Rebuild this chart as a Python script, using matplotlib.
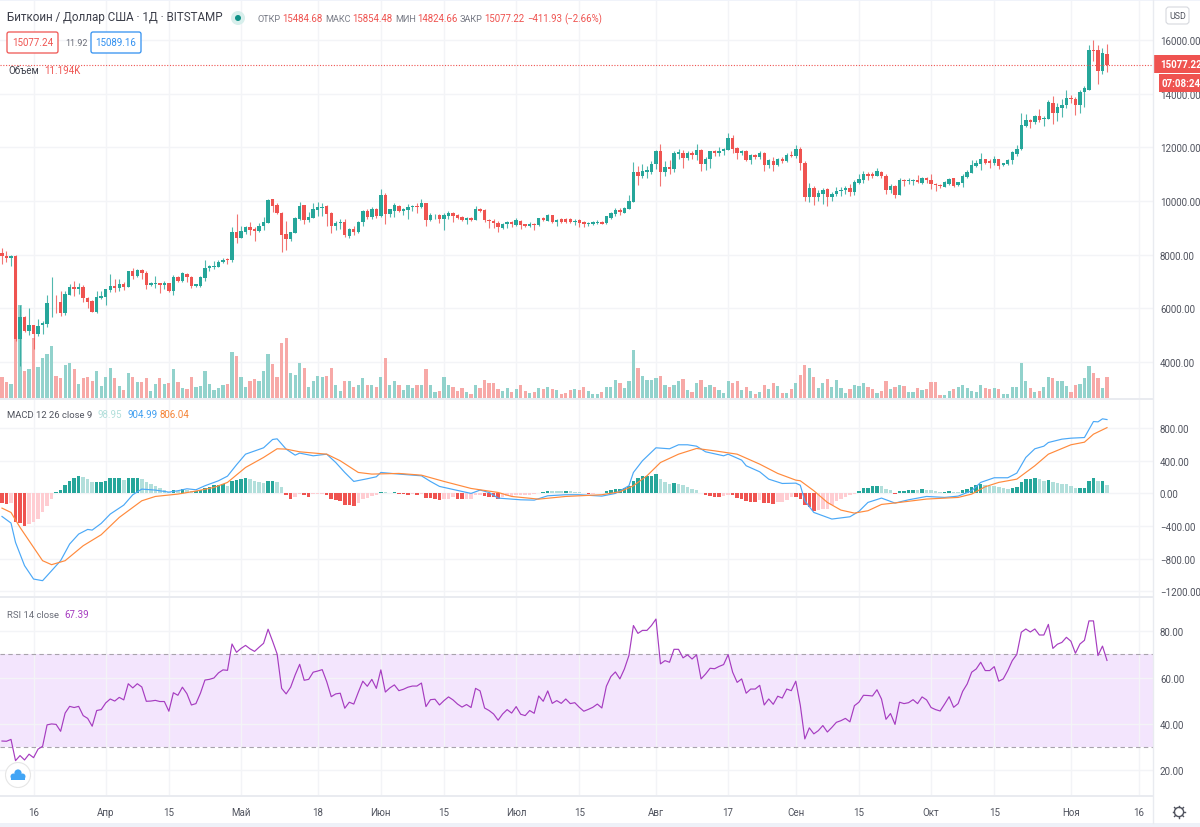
"""
Bitcoin / USD daily chart with volume, MACD and RSI panes, values read off a
TradingView screenshot.
"""

import matplotlib
matplotlib.use('Agg')
import matplotlib.pyplot as plt
from matplotlib.patches import Circle, FancyBboxPatch, Rectangle

plt.rcParams['font.family'] = ['Roboto', 'DejaVu Sans']

# one candle per day, first one is 9 March
opens = [8060, 7940, 7890, 7940, 4850, 5660, 5160, 5370, 5040, 5370,
         5430, 6190, 6210, 6220, 5820, 6490, 6790, 6720, 6790, 6400,
         6290, 5880, 6400, 6430, 6670, 6840, 6740, 6920, 6790, 7380,
         7200, 7440, 7300, 6870, 6890, 6950, 6880, 6930, 6630, 7170,
         7020, 7290, 7150, 6820, 6850, 7140, 7510, 7530, 7550, 7730,
         7850, 7790, 8850, 8630, 8830, 9020, 8950, 8880, 9060, 9180,
         10070, 9860, 9560, 8770, 8570, 8820, 9310, 9840, 9290, 9350,
         9665, 9740, 9800, 9550, 9060, 9170, 9215, 8690, 8940, 8840,
         9200, 9615, 9415, 9715, 9430, 10210, 9515, 9640, 9825, 9640,
         9665, 9780, 9800, 9765, 9910, 9280, 9465, 9490, 9340, 9440,
         9550, 9490, 9415, 9290, 9350, 9290, 9715, 9650, 9290, 9265,
         9190, 9005, 9150, 9215, 9115, 9255, 9130, 9065, 9140, 9090,
         9350, 9270, 9465, 9230, 9330, 9330, 9330, 9215, 9280, 9215,
         9140, 9155, 9180, 9225, 9165, 9375, 9500, 9650, 9560, 9700,
         9950, 11070, 10920, 11090, 11090, 11365, 11850, 11070, 11265, 11205,
         11760, 11790, 11590, 11800, 11730, 11900, 11365, 11565, 11850, 11800,
         11865, 11915, 12350, 11990, 11790, 11865, 11515, 11700, 11650, 11790,
         11350, 11490, 11350, 11550, 11500, 11725, 11665, 11940, 11415, 10160,
         10480, 10160, 10270, 10460, 10150, 10245, 10370, 10420, 10480, 10345,
         10670, 10770, 10990, 10990, 10940, 11090, 10940, 10420, 10570, 10220,
         10780, 10730, 10740, 10800, 10660, 10850, 10790, 10630, 10590, 10530,
         10650, 10840, 10590, 10660, 10910, 11060, 11310, 11370, 11550, 11480,
         11410, 11550, 11330, 11380, 11520, 11760, 11920, 12790, 13000, 12940,
         13160, 13070, 13060, 13650, 13290, 13450, 13580, 13840, 13810, 13580,
         14080, 14150, 15620, 15620, 14860, 15484.68]
closes = [7960, 7890, 7940, 4850, 5660, 5160, 5370, 5030, 5340, 5450,
          6200, 6210, 6180, 5820, 6520, 6790, 6715, 6800, 6390, 6240,
          5880, 6440, 6470, 6720, 6840, 6740, 6920, 6790, 7380, 7200,
          7440, 7300, 6880, 6930, 6950, 6880, 6930, 6630, 7170, 7020,
          7320, 7150, 6840, 6890, 7180, 7500, 7570, 7590, 7730, 7810,
          7790, 8850, 8635, 8870, 9020, 8930, 8880, 9070, 9220, 10020,
          9810, 9560, 8750, 8570, 8830, 9360, 9830, 9290, 9415, 9690,
          9760, 9790, 9500, 9070, 9190, 9215, 8730, 8940, 8840, 9215,
          9630, 9400, 9715, 9430, 10210, 9515, 9690, 9840, 9625, 9690,
          9760, 9800, 9765, 9910, 9280, 9465, 9490, 9340, 9465, 9565,
          9440, 9350, 9290, 9350, 9290, 9715, 9640, 9290, 9240, 9165,
          9015, 9130, 9215, 9130, 9280, 9105, 9055, 9130, 9090, 9350,
          9280, 9465, 9230, 9280, 9215, 9230, 9215, 9265, 9190, 9140,
          9175, 9205, 9230, 9160, 9425, 9560, 9660, 9590, 9725, 9985,
          11070, 10940, 11130, 11150, 11365, 11850, 11070, 11265, 11205, 11800,
          11810, 11590, 11800, 11730, 11900, 11365, 11575, 11850, 11800, 11875,
          11940, 12350, 11940, 11790, 11865, 11515, 11700, 11650, 11800, 11350,
          11515, 11350, 11550, 11500, 11725, 11675, 11940, 11415, 10160, 10480,
          10160, 10295, 10420, 10150, 10270, 10370, 10420, 10480, 10345, 10705,
          10805, 10990, 10930, 10930, 11130, 10930, 10420, 10570, 10220, 10780,
          10740, 10770, 10800, 10700, 10860, 10790, 10620, 10580, 10560, 10710,
          10830, 10560, 10690, 10940, 11090, 11330, 11430, 11550, 11420, 11420,
          11550, 11300, 11410, 11530, 11810, 11930, 12830, 13000, 12940, 13160,
          13030, 13100, 13690, 13290, 13490, 13580, 13830, 13800, 13580, 14080,
          14200, 15620, 15600, 14860, 15510, 15077.22]
highs = [8240, 8150, 8000, 8000, 6140, 5700, 6000, 5370, 5600, 5530,
         6490, 7150, 6490, 6650, 6650, 6900, 7015, 6930, 6866, 6440,
         6320, 6650, 6650, 6680, 7280, 7090, 7090, 6990, 7400, 7500,
         7460, 7460, 7380, 6990, 7215, 6950, 7030, 6950, 7240, 7190,
         7340, 7315, 7190, 6900, 7215, 7800, 7615, 7775, 7815, 7860,
         7860, 9020, 9520, 9050, 9085, 9210, 9020, 9170, 9400, 10080,
         10090, 9930, 9580, 9250, 8860, 9400, 9980, 9840, 9590, 9910,
         9960, 9940, 9840, 9590, 9250, 9340, 9315, 9005, 9070, 9250,
         9665, 9690, 9790, 9750, 10435, 10285, 9715, 9940, 9865, 9750,
         9875, 9865, 9940, 10060, 9940, 9540, 9515, 9525, 9540, 9625,
         9590, 9515, 9440, 9415, 9390, 9815, 9750, 9690, 9340, 9315,
         9255, 9190, 9265, 9255, 9350, 9290, 9155, 9215, 9190, 9380,
         9400, 9500, 9490, 9330, 9350, 9365, 9350, 9315, 9340, 9255,
         9230, 9255, 9290, 9265, 9450, 9600, 9725, 9725, 9760, 10220,
         11440, 11290, 11365, 11315, 11480, 11910, 12125, 11500, 11540, 11875,
         11940, 11910, 11850, 11865, 12125, 11940, 11650, 11875, 11900, 12000,
         11960, 12520, 12450, 12010, 11915, 11915, 11740, 11740, 11865, 11815,
         11575, 11640, 11590, 11625, 11790, 11875, 12090, 12000, 11500, 10655,
         10570, 10410, 10470, 10495, 10320, 10505, 10505, 10570, 10630, 10780,
         11005, 11130, 11090, 11090, 11230, 11130, 11005, 10620, 10595, 10845,
         10810, 10845, 10830, 10970, 10910, 10885, 11000, 10680, 10645, 10745,
         10870, 10860, 10710, 11000, 11145, 11520, 11520, 11780, 11580, 11555,
         11660, 11580, 11430, 11555, 11870, 12080, 13280, 13255, 13055, 13205,
         13415, 13180, 13780, 13930, 13655, 13805, 14140, 13940, 13865, 14150,
         14300, 15800, 16010, 15800, 15710, 15854.48]
lows = [7650, 7720, 7590, 4780, 3850, 5100, 5000, 4470, 4970, 5030,
        5320, 5660, 5840, 5720, 5745, 6490, 6470, 6530, 6220, 6030,
        5870, 5840, 6340, 6130, 6590, 6590, 6650, 6680, 6780, 7090,
        7150, 7090, 6730, 6815, 6740, 6570, 6710, 6600, 6490, 6990,
        6990, 6970, 6750, 6800, 6800, 7030, 7390, 7460, 7525, 7690,
        7665, 7740, 8440, 8610, 8770, 8735, 8520, 8860, 8930, 9180,
        9580, 9520, 8110, 8190, 8520, 8810, 9280, 9130, 9215, 9350,
        9440, 9440, 9070, 8790, 8920, 8970, 8660, 8630, 8720, 8790,
        9070, 9340, 9340, 9380, 9415, 9130, 9400, 9415, 9590, 9465,
        9340, 9625, 9540, 9740, 9070, 9240, 9315, 9190, 8905, 9315,
        9215, 9340, 9255, 9130, 9255, 9280, 9590, 9215, 8980, 9005,
        8840, 8940, 9005, 9040, 9070, 8940, 9030, 9040, 8920, 9070,
        9240, 9240, 9190, 9070, 9190, 9190, 9190, 9090, 9040, 9030,
        9070, 9090, 9130, 9125, 9125, 9315, 9450, 9490, 9550, 9700,
        9950, 10605, 10870, 10870, 11005, 11190, 10570, 10940, 11005, 11090,
        11565, 11230, 11540, 11565, 11515, 11130, 11165, 11215, 11665, 11665,
        11725, 11915, 11790, 11565, 11715, 11490, 11380, 11565, 11565, 11130,
        11230, 11130, 11315, 11415, 11465, 11625, 11590, 11165, 10000, 9950,
        9850, 10000, 9870, 9800, 9985, 10195, 10195, 10260, 10195, 10210,
        10620, 10670, 10795, 10845, 10915, 10845, 10260, 10295, 10120, 10210,
        10560, 10645, 10595, 10660, 10620, 10680, 10430, 10370, 10495, 10520,
        10610, 10520, 10560, 10530, 10870, 11030, 11270, 11160, 11370, 11245,
        11330, 11210, 11310, 11345, 11395, 11660, 11905, 12745, 12730, 12870,
        12930, 12780, 13040, 12870, 12990, 13115, 13455, 13640, 13215, 13280,
        13515, 14150, 15215, 14365, 14740, 14824.66]

# volume in thousands
volumes = [11.5, 8.5, 7.4, 32.4, 50.4, 14.8, 15.7, 32.4, 16.9, 21.6,
           23.6, 28.0, 11.7, 10.6, 17.8, 18.9, 15.7, 7.6, 10.6, 11.3,
           9.4, 14.4, 6.5, 11.3, 16.4, 10.6, 6.5, 4.3, 13.3, 11.3,
           8.5, 8.5, 10.6, 4.0, 7.6, 10.6, 7.6, 8.1, 15.5, 8.5,
           5.4, 4.9, 11.3, 6.1, 6.5, 14.4, 7.4, 4.3, 5.4, 7.0,
           7.6, 24.7, 22.7, 11.3, 5.9, 9.2, 10.3, 9.4, 14.6, 23.6,
           18.4, 11.2, 29.7, 32.2, 13.5, 12.2, 18.9, 16.2, 6.1, 9.4,
           12.1, 11.3, 12.1, 16.2, 7.2, 3.8, 9.0, 9.0, 5.8, 6.8,
           11.0, 7.2, 6.8, 5.8, 11.3, 21.4, 6.8, 9.0, 7.2, 4.1,
           6.8, 5.2, 6.8, 6.8, 15.5, 6.8, 3.1, 3.8, 11.3, 6.8,
           5.8, 3.8, 5.2, 3.1, 2.0, 6.8, 5.2, 9.9, 8.3, 7.9,
           4.9, 3.8, 5.2, 3.1, 4.9, 6.8, 3.8, 2.7, 3.1, 5.2,
           4.9, 6.1, 4.9, 4.1, 2.0, 2.7, 4.1, 4.9, 4.1, 5.8,
           3.8, 2.0, 2.0, 3.1, 5.8, 5.8, 9.9, 7.9, 5.2, 9.0,
           25.7, 16.2, 12.1, 9.9, 9.9, 11.0, 12.1, 6.8, 5.8, 7.2,
           9.4, 10.1, 4.1, 3.1, 7.9, 9.9, 5.8, 6.8, 5.8, 4.1,
           2.7, 9.4, 8.3, 9.4, 4.1, 6.1, 3.8, 2.0, 3.1, 6.8,
           4.9, 7.9, 6.3, 2.7, 2.7, 4.9, 7.9, 12.4, 17.6, 16.2,
           11.3, 5.2, 8.3, 10.4, 5.8, 9.9, 5.2, 2.7, 4.9, 7.2,
           6.3, 8.3, 5.8, 4.9, 2.7, 3.8, 9.4, 4.9, 5.8, 6.8,
           6.3, 3.1, 3.1, 5.4, 4.3, 5.0, 8.5, 8.5, 1.8, 1.8,
           4.0, 5.0, 6.1, 7.0, 5.4, 4.0, 3.1, 7.0, 5.4, 4.7,
           5.4, 5.0, 2.0, 2.0, 6.1, 6.1, 18.9, 9.2, 5.4, 3.4,
           4.0, 6.1, 11.3, 10.6, 9.2, 9.2, 6.5, 3.1, 7.0, 7.7,
           10.6, 17.5, 13.3, 10.6, 5.4, 11.194]

macd_hist = [-122, -130, -122, -347, -367, -400, -375, -347, -318, -224,
             -150, -70, 12, 40, 98, 155, 192, 212, 196, 175,
             139, 143, 144, 155, 184, 185, 186, 163, 188, 189,
             190, 171, 143, 114, 90, 65, 41, 20, 41, 33,
             57, 41, 29, 33, 41, 65, 82, 98, 106, 114,
             90, 155, 163, 180, 188, 180, 155, 143, 131, 155,
             156, 135, 73, -24, -65, -41, -12, -16, -40, -12,
             -11, -10, -24, -65, -82, -98, -139, -147, -148, -114,
             -73, -57, -33, -20, 20, 12, 8, 12, -4, -8,
             -20, -4, -20, -4, -57, -58, -70, -82, -73, -65,
             -49, -70, -71, -65, -64, -24, -16, -33, -41, -49,
             -70, -49, -33, -29, -24, -23, -20, -19, -12, 2,
             20, 29, 28, 27, 26, 29, 24, 16, 15, 8,
             -8, -4, 8, 9, 24, 45, 49, 57, 65, 90,
             147, 188, 212, 213, 214, 237, 175, 143, 114, 122,
             114, 98, 73, 49, 41, 4, -24, -29, -41, -49,
             -33, -16, -24, -57, -73, -98, -106, -107, -82, -122,
             -123, -124, -106, -105, -82, -41, -49, -73, -147, -171,
             -212, -204, -188, -187, -139, -98, -65, -41, -24, -12,
             33, 61, 69, 86, 94, 90, 49, 41, -8, 24,
             29, 41, 45, 41, 49, 41, 37, 24, 16, 20,
             29, 20, 19, 45, 53, 73, 98, 114, 106, 90,
             89, 73, 61, 49, 61, 73, 135, 180, 182, 190,
             171, 155, 163, 139, 122, 114, 113, 94, 65, 66,
             70, 147, 188, 147, 150, 98.95]

macd_days = [0, 2, 3, 5, 7, 9, 11, 13, 15, 17, 19, 20, 22, 24, 27, 29, 31, 34, 37, 39,
             41, 43, 45, 48, 50, 52, 54, 58, 60, 61, 63, 65, 66, 69, 72, 74, 76, 78, 81, 83,
             84, 88, 93, 95, 97, 100, 104, 106, 108, 110, 115, 118, 121, 125, 128, 133, 136, 139, 140, 142,
             145, 148, 150, 152, 154, 156, 160, 161, 164, 165, 168, 170, 173, 176, 177, 178, 180, 184, 188, 190,
             192, 195, 198, 201, 205, 209, 212, 215, 217, 220, 223, 225, 227, 229, 231, 232, 235, 237, 240, 242,
             243, 244, 245]
macd_line = [-282, -363, -600, -885, -1049, -1069, -947, -824, -620, -498, -441, -449, -367, -253, -143, -16, 53, 41, 16, 33,
             57, 45, 94, 155, 212, 351, 481, 559, 661, 669, 543, 469, 494, 461, 481, 379, 257, 147, 180, 204,
             257, 237, 216, 147, 86, 49, 0, 41, 12, -57, -78, -82, -29, -16, -16, -33, 0, 94, 257, 400,
             559, 547, 596, 596, 579, 510, 461, 481, 408, 339, 265, 175, 122, 126, 100, -90, -233, -314, -286, -220,
             -110, -57, -118, -78, -37, -49, -33, 33, 135, 192, 192, 249, 441, 547, 579, 624, 665, 677, 685, 881,
             877, 914, 904.99]

signal_days = [0, 2, 4, 7, 9, 11, 14, 18, 22, 26, 31, 34, 39, 43, 47, 50, 54, 58, 61, 63,
               66, 72, 75, 79, 82, 88, 93, 98, 104, 110, 113, 119, 125, 133, 137, 140, 143, 146, 150, 154,
               158, 163, 168, 172, 176, 177, 180, 183, 186, 189, 192, 195, 199, 205, 212, 215, 218, 221, 225, 229,
               232, 237, 240, 242, 245]
signal_line = [-180, -233, -416, -661, -824, -873, -824, -641, -506, -294, -90, -37, -8, 29, 73, 135, 318, 441, 547, 543,
               510, 481, 400, 257, 237, 245, 224, 147, 61, 12, -37, -70, -37, -16, 20, 94, 216, 379, 481, 551,
               522, 481, 359, 245, 163, 155, 33, -110, -204, -241, -212, -135, -110, -69, -49, -8, 82, 135, 175, 339,
               481, 596, 628, 726, 806.04]

rsi_values = [32.5, 32.4, 33.2, 24.0, 26.2, 24.3, 26.8, 25.3, 29.0, 30.2,
              39.5, 39.9, 39.7, 36.7, 44.6, 47.5, 47.0, 47.5, 43.5, 42.3,
              38.9, 45.7, 46.1, 49.0, 50.7, 49.8, 51.4, 50.3, 57.3, 55.5,
              57.3, 55.9, 49.7, 49.8, 50.1, 49.6, 49.6, 45.4, 53.4, 52.3,
              55.8, 53.0, 48.1, 48.7, 53.2, 58.9, 59.2, 59.8, 62.0, 63.3,
              63.1, 74.5, 70.9, 72.6, 73.9, 72.4, 71.3, 73.1, 74.8, 80.9,
              75.7, 70.2, 55.3, 52.9, 55.8, 61.1, 65.7, 58.8, 59.2, 62.3,
              62.8, 63.4, 58.2, 51.7, 52.9, 53.2, 46.7, 49.3, 48.5, 53.6,
              58.4, 56.2, 59.2, 55.3, 63.3, 53.7, 55.5, 56.8, 54.3, 54.9,
              55.8, 56.3, 56.3, 57.6, 47.4, 50.4, 50.6, 48.1, 50.0, 51.6,
              50.3, 48.5, 47.2, 48.3, 47.0, 55.3, 54.2, 46.8, 45.7, 44.2,
              41.5, 44.2, 46.1, 44.6, 47.4, 44.1, 43.5, 45.7, 44.5, 52.0,
              49.7, 54.2, 48.8, 50.0, 48.8, 50.7, 48.7, 49.1, 47.1, 45.4,
              46.2, 47.1, 48.5, 46.8, 56.2, 60.4, 62.4, 59.4, 63.7, 69.5,
              82.5, 79.1, 80.4, 80.4, 82.5, 85.3, 65.9, 67.3, 66.6, 72.2,
              72.2, 68.5, 69.8, 68.0, 69.8, 59.4, 61.5, 64.0, 63.8, 64.8,
              65.6, 69.9, 62.3, 57.9, 59.4, 53.2, 55.0, 55.0, 56.6, 48.1,
              50.7, 48.4, 51.9, 51.1, 55.0, 54.3, 58.4, 48.0, 33.4, 38.2,
              35.6, 37.0, 39.2, 36.4, 38.4, 40.6, 41.3, 42.3, 40.8, 47.8,
              49.3, 52.3, 52.2, 52.0, 54.7, 50.7, 41.9, 44.4, 39.7, 49.3,
              48.7, 49.1, 50.4, 48.7, 51.6, 50.3, 47.0, 46.1, 45.5, 48.5,
              51.7, 47.1, 48.7, 54.0, 57.2, 62.3, 63.7, 66.6, 63.0, 63.0,
              64.7, 58.4, 59.4, 63.0, 67.3, 70.0, 79.6, 81.0, 79.7, 81.0,
              78.4, 78.4, 83.0, 72.6, 74.4, 75.2, 77.4, 75.7, 70.5, 74.5,
              76.1, 84.5, 84.5, 69.5, 73.6, 67.39]

tick_days = [7, 23, 37, 53, 70, 84, 98, 114, 128, 145, 161, 176, 190, 206, 220, 237, 252]
tick_labels = ['16', 'Апр', '15', 'Май', '18', 'Июн', '15', 'Июл', '15', 'Авг',
               '17', 'Сен', '15', 'Окт', '15', 'Ноя', '16']
price_ticks = [4000, 6000, 8000, 10000, 12000, 14000, 16000]
macd_ticks = [-1200, -800, -400, 0, 400, 800]
rsi_ticks = [20, 40, 60, 80]

W, H = 1200, 828
CHART_W = 1153
UP, DOWN = '#26a69a', '#ef5350'
TEXT = '#50535e'
GRID = '#f3f4f7'
FS = 7.0


def pane(fig, top, bottom):
    # axes placed by pixel rows of the screenshot
    ax = fig.add_axes([0, 1 - bottom / H, CHART_W / W, (bottom - top) / H])
    ax.set_xlim(-0.44, 255.2)
    for side in ax.spines.values():
        side.set_visible(False)
    ax.set_xticks(tick_days)
    ax.set_xticklabels([])
    ax.tick_params(axis='both', length=0, labelsize=FS, labelcolor=TEXT, pad=5)
    ax.grid(True, color=GRID, lw=1)
    ax.set_axisbelow(True)
    return ax


def axis_labels(ax, ticks):
    ax.set_yticks(ticks)
    ax.set_yticklabels(['{:.2f}'.format(t).replace('-', '−') for t in ticks])
    ax.yaxis.tick_right()


def put(overlay, x, y, text, color=TEXT, size=FS, **kw):
    overlay.text(x, y, text, color=color, fontsize=size, va='center', **kw)


def main():
    days = list(range(len(closes)))
    fig = plt.figure(figsize=(W / 100, H / 100), dpi=100)

    # price pane, twinx moves the ticks to the left so labels come after it
    ax_p = pane(fig, 0, 400)
    ax_p.set_ylim(2620, 17528)

    colors = [UP if c >= o else DOWN for o, c in zip(opens, closes)]
    vol_colors = ['#92d2cc' if c == UP else '#f7a9a7' for c in colors]

    ax_v = ax_p.twinx()
    ax_v.set_ylim(-0.54, 215.5)
    ax_v.axis('off')
    ax_v.bar(days, volumes, width=0.72, color=vol_colors, lw=0, zorder=1)

    ax_c = ax_p.twinx()
    ax_c.set_ylim(2620, 17528)
    ax_c.axis('off')
    ax_c.vlines(days, lows, highs, colors=colors, lw=0.8, alpha=0.8, zorder=2)
    ax_c.bar(days, [abs(c - o) for o, c in zip(opens, closes)],
             bottom=[min(o, c) for o, c in zip(opens, closes)],
             width=0.76, color=colors, lw=0, zorder=3)
    ax_c.axhline(closes[-1], color=DOWN, lw=0.8, ls=(0, (1, 1.5)), zorder=4)

    axis_labels(ax_p, price_ticks)
    ax_p.tick_params(axis='y', length=0, labelsize=FS, labelcolor=TEXT, pad=5)

    # macd pane
    ax_m = pane(fig, 400, 598)
    ax_m.set_ylim(-1269, 1157)
    axis_labels(ax_m, macd_ticks)
    hist_colors = []
    for i, v in enumerate(macd_hist):
        rising = i > 0 and v > macd_hist[i - 1]
        if v >= 0:
            hist_colors.append(UP if rising else '#b2dfdb')
        else:
            hist_colors.append('#ffcdd2' if rising else DOWN)
    ax_m.bar(days, macd_hist, width=0.78, color=hist_colors, lw=0, zorder=2)
    ax_m.plot(macd_days, macd_line, color='#4aa8f7', lw=0.85, zorder=3)
    ax_m.plot(signal_days, signal_line, color='#ff8a3c', lw=0.85, zorder=4)

    # rsi pane
    ax_r = pane(fig, 598, 797)
    ax_r.set_ylim(8.7, 94.85)
    axis_labels(ax_r, rsi_ticks)
    ax_r.axhspan(30, 70, color='#f3e5fd', lw=0, zorder=0.5)
    for level in (30, 70):
        ax_r.axhline(level, color='#a8a3ac', lw=0.8, ls=(0, (4, 3)), zorder=1)
    ax_r.plot(days, rsi_values, color='#a63cc0', lw=0.85, zorder=3)
    ax_r.set_xticklabels(tick_labels)
    ax_r.tick_params(axis='x', pad=8)

    # everything around the panes is drawn in screenshot pixels
    overlay = fig.add_axes([0, 0, 1, 1], facecolor='none')
    overlay.set_xlim(0, W)
    overlay.set_ylim(H, 0)
    overlay.axis('off')

    line = '#e9ebf0'
    overlay.add_patch(Rectangle((0, 0), W, 2, color='#f0f3fa', lw=0))
    overlay.add_patch(Rectangle((0, 824), W, 4, color='#eef1f8', lw=0))
    overlay.add_patch(Rectangle((0, 399), CHART_W, 2, color=line, lw=0))
    overlay.add_patch(Rectangle((0, 597), CHART_W, 2, color=line, lw=0))
    overlay.add_patch(Rectangle((0, 796), CHART_W, 2, color=line, lw=0))
    overlay.plot([CHART_W, CHART_W], [0, 824], color=line, lw=1)

    # legend rows
    put(overlay, 7, 18, 'Биткоин / Доллар США · 1Д · BITSTAMP', '#3c3f4a', 8.4)
    overlay.add_patch(Circle((238, 19), 7, color='#d8efec', lw=0))
    overlay.add_patch(Circle((238, 19), 3, color='#0f9187', lw=0))
    for x, label in [(257, 'ОТКР'), (325, 'МАКС'), (395, 'МИН'), (460, 'ЗАКР')]:
        put(overlay, x, 19, label, '#787b86', 6.6)
    for x, label in [(282, '15484.68'), (352, '15854.48'), (417, '14824.66'),
                     (484, '15077.22'), (527, '−411.93'), (564, '(−2.66%)')]:
        put(overlay, x, 19, label, DOWN, 6.9)

    for x, w, col, label in [(7, 51, DOWN, '15077.24'), (91, 50, '#2f8ff0', '15089.16')]:
        overlay.add_patch(FancyBboxPatch((x, 33), w, 21, boxstyle='round,pad=0,rounding_size=2',
                                         fc='white', ec=col, lw=0.9))
        put(overlay, x + w / 2, 43.5, label, col, ha='center')
    put(overlay, 65, 43, '11.92', '#6a6d78', 6.4)
    put(overlay, 8, 71, 'Объём', '#3c3f4a')
    put(overlay, 44, 71, '11.194K', DOWN)

    put(overlay, 7, 415.5, 'MACD 12 26 close 9', '#50535e', 6.8)
    put(overlay, 97, 415.5, '98.95', '#b2dfdb')
    put(overlay, 127, 415.5, '904.99', '#3f9ef0')
    put(overlay, 160, 415.5, '806.04', '#f58437')
    put(overlay, 7, 615.5, 'RSI 14 close', '#6a6d78', 6.8)
    put(overlay, 64, 615.5, '67.39', '#a63cc0')

    # last price and countdown labels
    overlay.add_patch(Rectangle((1153, 56), 47, 18, color=DOWN, lw=0))
    put(overlay, 1160, 65, '15077.22', 'white', weight='bold')
    overlay.add_patch(Rectangle((1159, 75), 41, 18, color=DOWN, lw=0))
    put(overlay, 1162, 84, '07:08:24', 'white', weight='bold')

    # currency button
    overlay.add_patch(FancyBboxPatch((1166, 8), 23, 17, boxstyle='round,pad=0,rounding_size=3',
                                     fc='white', ec='#d6d8de', lw=0.8))
    put(overlay, 1177.5, 16.5, 'USD', TEXT, 6.4, ha='center')

    # logo in the corner of the rsi pane
    overlay.add_patch(Circle((18, 776), 12.5, fc='white', ec='#e6e6e6', lw=0.8))
    for cx, cy, r in [(13.5, 777.5, 3), (18, 774, 3.6), (22.5, 777.5, 3)]:
        overlay.add_patch(Circle((cx, cy), r, color='#42a5f5', lw=0))
    overlay.add_patch(Rectangle((11, 777), 14, 4, color='#42a5f5', lw=0))

    # settings gear
    overlay.add_patch(Circle((1179, 813), 4.6, fc='white', ec='#50535e', lw=1))
    spokes = [(0, -1), (0.7, -0.7), (1, 0), (0.7, 0.7), (0, 1), (-0.7, 0.7), (-1, 0), (-0.7, -0.7)]
    for dx, dy in spokes:
        overlay.plot([1179 + 4.6 * dx, 1179 + 6.4 * dx], [813 + 4.6 * dy, 813 + 6.4 * dy],
                     color='#50535e', lw=1)

    fig.savefig('out.png', dpi=100, facecolor='white')


if __name__ == '__main__':
    main()
